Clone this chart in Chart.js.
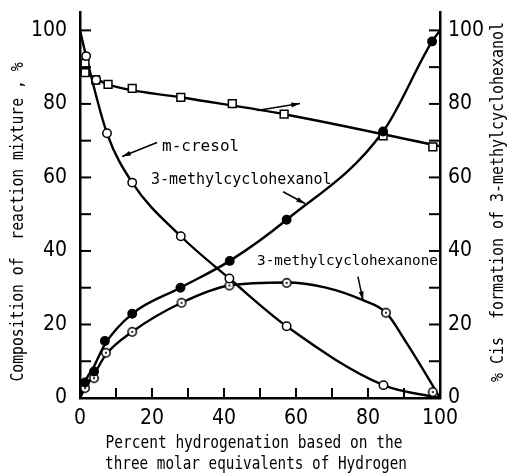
<!DOCTYPE html>
<html>
<head>
<meta charset="utf-8">
<script src="https://cdn.jsdelivr.net/npm/chart.js@4.4.1/dist/chart.umd.min.js"></script>
<style>
	html, body { margin: 0; padding: 0; background: #fff; }
	#wrap { width: 512px; height: 475px; }
</style>
</head>
<body>
<div id="wrap"><canvas id="chart"></canvas></div>
<script>
// values, [percent hydrogenation, percent]
const cresolPoints = [ [ 1.7, 93 ], [ 4.5, 86.5 ], [ 7.5, 72 ], [ 14.5, 58.6 ], [ 28, 44 ], [ 41.5, 32.5 ], [ 57.4, 19.5 ], [ 84.3, 3.5 ] ];
const alcoholPoints = [ [ 1.4, 4.2 ], [ 3.9, 7.2 ], [ 6.9, 15.5 ], [ 14.5, 22.9 ], [ 27.9, 30 ], [ 41.6, 37.3 ], [ 57.4, 48.5 ], [ 84.2, 72.5 ], [ 97.8, 97 ] ];
const ketonePoints = [ [ 1.4, 2.7 ], [ 3.9, 5.4 ], [ 7.2, 12.3 ], [ 14.5, 18 ], [ 28.2, 25.9 ], [ 41.5, 30.6 ], [ 57.4, 31.3 ], [ 85, 23.2 ], [ 98, 1.6 ] ];
const cisPoints = [ [ 1.4, 91 ], [ 1.4, 88.5 ], [ 4.4, 86.5 ], [ 7.8, 85.3 ], [ 14.5, 84.2 ], [ 28, 81.8 ], [ 42.3, 80.1 ], [ 56.7, 77.2 ], [ 84.2, 71.3 ], [ 98, 68.3 ] ];

// fitted curves as drawn in the figure, read at a few places along each
const cresolCurve = [ [ 0, 100 ], [ 1.7, 93 ], [ 7.5, 72 ], [ 14.5, 58.6 ], [ 28, 44 ], [ 41.5, 32.5 ], [ 57.4, 19.5 ], [ 84.3, 3.5 ], [ 100, 0 ] ];
const alcoholCurve = [ [ 0, 0 ], [ 1.4, 4.4 ], [ 3.9, 8.6 ], [ 6.9, 14.6 ], [ 14.5, 22.9 ], [ 27.9, 30 ], [ 41.6, 37.3 ], [ 57.4, 48.5 ], [ 84.2, 72.5 ], [ 97.8, 97 ], [ 100, 100 ] ];
const ketoneCurve = [ [ 0, 0 ], [ 1.4, 2.7 ], [ 3.9, 6.4 ], [ 7.2, 11.8 ], [ 14.5, 18 ], [ 28.2, 25.9 ], [ 41.5, 30.6 ], [ 57.4, 31.4 ], [ 68, 30.1 ], [ 78.6, 26.6 ], [ 85, 23.2 ], [ 90.7, 15 ], [ 95.4, 7.6 ], [ 100, 0 ] ];
const cisCurve = [ [ 1.4, 88.5 ], [ 7.8, 85.3 ], [ 28, 81.8 ], [ 56.7, 77.2 ], [ 100, 68.5 ] ];

const tickValues = [ 0, 10, 20, 30, 40, 50, 60, 70, 80, 90, 100 ];
const labelledTicks = [ 0, 20, 40, 60, 80, 100 ];

const xTitle = [ 'Percent hydrogenation based on the', 'three molar equivalents of Hydrogen' ];
const yTitle = 'Composition of  reaction mixture , %';
const y2Title = '% Cis  formation of 3-methylcyclohexanol';

// in-plot labels and arrows, in data units of the left axis
const notes = [
	{ text: 'm-cresol', size: 16, x: 22.8, y: 68.4, from: [ 21.4, 69.5 ], to: [ 11.7, 65.7 ] },
	{ text: '3-methylcyclohexanol', size: 15, x: 19.7, y: 59.4, from: [ 56.4, 56.1 ], to: [ 62.5, 52.9 ] },
	{ text: '3-methylcyclohexanone', size: 14.3, x: 49.2, y: 37.1, from: [ 77.2, 33 ], to: [ 78.6, 26.6 ] },
	{ text: '', from: [ 49.2, 78.2 ], to: [ 61.1, 80.1 ] },
];

const MONO = '"DejaVu Sans Mono", monospace';
const TICK_FONT = { family: '"DejaVu Sans Condensed", "DejaVu Sans", sans-serif', size: 21 };

function toXY( rows ) {
	return rows.map( function ( r ) { return { x: r[ 0 ], y: r[ 1 ] }; } );
}

function dottedCircle() {
	const c = document.createElement( 'canvas' );
	c.width = 12;
	c.height = 12;
	const g = c.getContext( '2d' );
	g.fillStyle = '#fff';
	g.strokeStyle = '#000';
	g.lineWidth = 1.5;
	g.beginPath();
	g.arc( 6, 6, 4.2, 0, Math.PI * 2 );
	g.fill();
	g.stroke();
	g.fillStyle = '#000';
	g.beginPath();
	g.arc( 6, 6, 1.1, 0, Math.PI * 2 );
	g.fill();
	return c;
}

function curve( rows, axis ) {
	return {
		type: 'line',
		data: toXY( rows ),
		yAxisID: axis,
		borderColor: '#000',
		borderWidth: 2.4,
		pointRadius: 0,
		cubicInterpolationMode: 'monotone',
		fill: false,
		order: 2,
	};
}

function marks( rows, axis, style ) {
	return Object.assign( {
		type: 'scatter',
		data: toXY( rows ),
		yAxisID: axis,
		borderColor: '#000',
		borderWidth: 1.5,
		backgroundColor: '#fff',
		pointRadius: 4.2,
		showLine: false,
		order: 1,
	}, style );
}

const inwardTicks = {
	id: 'inwardTicks',
	afterDatasetsDraw: function ( chart ) {
		const ctx = chart.ctx;
		const area = chart.chartArea;
		ctx.save();
		ctx.strokeStyle = '#000';
		ctx.lineWidth = 2;
		[ 'y', 'y2' ].forEach( function ( id ) {
			const s = chart.scales[ id ];
			const x0 = id === 'y' ? area.left : area.right;
			const dir = id === 'y' ? 1 : -1;
			s.ticks.forEach( function ( t ) {
				const py = s.getPixelForValue( t.value );
				ctx.beginPath();
				ctx.moveTo( x0, py );
				ctx.lineTo( x0 + dir * 11, py );
				ctx.stroke();
			} );
		} );
		const sx = chart.scales.x;
		sx.ticks.forEach( function ( t ) {
			const px = sx.getPixelForValue( t.value );
			ctx.beginPath();
			ctx.moveTo( px, area.bottom );
			ctx.lineTo( px, area.bottom - 10 );
			ctx.stroke();
		} );
		ctx.restore();
	},
};

const notesPlugin = {
	id: 'notes',
	afterDatasetsDraw: function ( chart ) {
		const ctx = chart.ctx;
		const sx = chart.scales.x;
		const sy = chart.scales.y;
		ctx.save();
		ctx.fillStyle = '#000';
		ctx.strokeStyle = '#000';
		ctx.textBaseline = 'middle';
		notes.forEach( function ( n ) {
			if ( n.text ) {
				ctx.font = n.size + 'px ' + MONO;
				ctx.fillText( n.text, sx.getPixelForValue( n.x ), sy.getPixelForValue( n.y ) );
			}
			const x1 = sx.getPixelForValue( n.from[ 0 ] );
			const y1 = sy.getPixelForValue( n.from[ 1 ] );
			const x2 = sx.getPixelForValue( n.to[ 0 ] );
			const y2 = sy.getPixelForValue( n.to[ 1 ] );
			const a = Math.atan2( y2 - y1, x2 - x1 );
			ctx.lineWidth = 1.5;
			ctx.beginPath();
			ctx.moveTo( x1, y1 );
			ctx.lineTo( x2, y2 );
			ctx.stroke();
			ctx.beginPath();
			ctx.moveTo( x2, y2 );
			ctx.lineTo( x2 - 9 * Math.cos( a - 0.28 ), y2 - 9 * Math.sin( a - 0.28 ) );
			ctx.lineTo( x2 - 9 * Math.cos( a + 0.28 ), y2 - 9 * Math.sin( a + 0.28 ) );
			ctx.closePath();
			ctx.fill();
		} );
		ctx.restore();
	},
};

// draw text squeezed along its own direction to get the narrow, tall lettering
function narrowText( ctx, text, x, y, angle, size, len ) {
	ctx.save();
	ctx.font = size + 'px ' + MONO;
	const w = ctx.measureText( text ).width;
	ctx.translate( x, y );
	ctx.rotate( angle );
	ctx.scale( len / w, 1 );
	ctx.fillText( text, 0, 0 );
	ctx.restore();
}

// axis titles; both side titles read bottom to top as in the original
const titlesPlugin = {
	id: 'titles',
	afterDraw: function ( chart ) {
		const ctx = chart.ctx;
		const area = chart.chartArea;
		ctx.save();
		ctx.fillStyle = '#000';
		ctx.textAlign = 'center';
		ctx.textBaseline = 'middle';
		narrowText( ctx, yTitle, 19, area.bottom - 176, -Math.PI / 2, 17, 319 );
		narrowText( ctx, y2Title, 499, area.bottom - 196, -Math.PI / 2, 17, 360 );
		const cx = ( area.left + area.right ) / 2 - 6;
		narrowText( ctx, xTitle[ 0 ], cx, area.bottom + 46, 0, 17, 297 );
		narrowText( ctx, xTitle[ 1 ], cx + 2, area.bottom + 67, 0, 17, 302 );
		ctx.restore();
	},
};

function fixedTicks( scale ) {
	scale.ticks = tickValues.map( function ( v ) { return { value: v }; } );
}

function labelOf( v ) {
	return labelledTicks.indexOf( v ) >= 0 ? String( v ) : '';
}

function fitSide( width ) {
	return function ( s ) {
		s.width = width;
		s.paddingTop = 0;
		s.paddingBottom = 0;
	};
}

const dotStyle = dottedCircle();

new Chart( document.getElementById( 'chart' ), {
	data: {
		datasets: [
			curve( cresolCurve, 'y' ),
			curve( alcoholCurve, 'y' ),
			curve( ketoneCurve, 'y' ),
			curve( cisCurve, 'y2' ),
			marks( cresolPoints, 'y', { pointStyle: 'circle' } ),
			marks( alcoholPoints, 'y', { pointStyle: 'circle', backgroundColor: '#000' } ),
			marks( ketonePoints, 'y', { pointStyle: dotStyle } ),
			marks( cisPoints, 'y2', { pointStyle: 'rect', pointRadius: 5.5 } ),
		],
	},
	options: {
		responsive: true,
		maintainAspectRatio: false,
		animation: false,
		layout: { padding: { top: 12, left: 0, right: 0, bottom: 0 } },
		plugins: {
			legend: { display: false },
			tooltip: { enabled: false },
		},
		scales: {
			x: {
				type: 'linear',
				min: 0,
				max: 100,
				grid: { display: false },
				border: { display: true, color: '#000', width: 2.5 },
				ticks: {
					color: '#000',
					font: TICK_FONT,
					padding: 0,
					maxRotation: 0,
					autoSkip: false,
					callback: labelOf,
				},
				afterBuildTicks: fixedTicks,
				afterFit: function ( s ) {
					s.height = 77;
					s.paddingLeft = 0;
					s.paddingRight = 0;
				},
			},
			y: {
				type: 'linear',
				position: 'left',
				min: 0,
				max: 105,
				grid: { display: false },
				border: { display: true, color: '#000', width: 2.5 },
				ticks: {
					color: '#000',
					font: TICK_FONT,
					padding: 5,
					autoSkip: false,
					callback: labelOf,
				},
				afterBuildTicks: fixedTicks,
				afterFit: fitSide( 80 ),
			},
			y2: {
				type: 'linear',
				position: 'right',
				min: 0,
				max: 105,
				grid: { display: false },
				border: { display: true, color: '#000', width: 2.5 },
				ticks: {
					color: '#000',
					font: TICK_FONT,
					padding: 0,
					autoSkip: false,
					callback: labelOf,
				},
				afterBuildTicks: fixedTicks,
				afterFit: fitSide( 72 ),
			},
		},
	},
	plugins: [ inwardTicks, notesPlugin, titlesPlugin ],
} );
</script>
</body>
</html>
